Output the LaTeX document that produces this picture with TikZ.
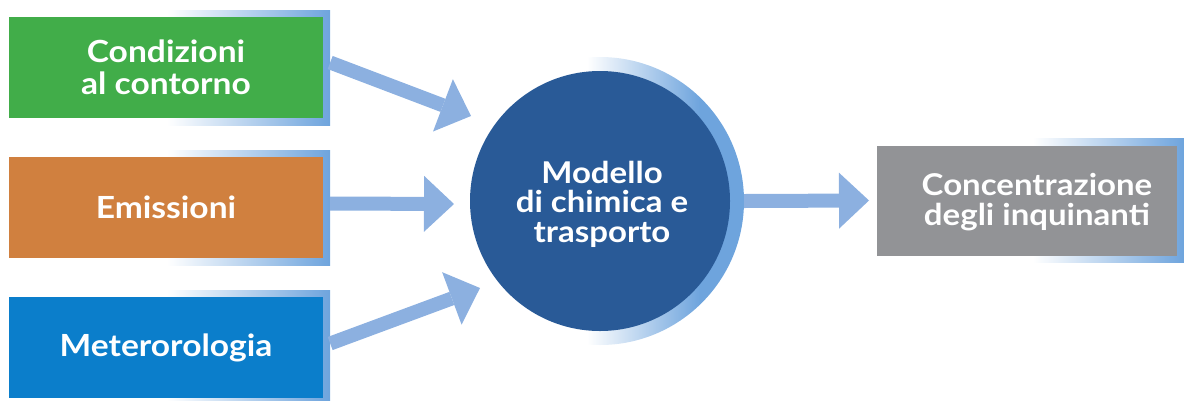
\documentclass[tikz,border=0pt]{standalone}
\usepackage{fontspec}
\setmainfont{Lato}[FakeStretch=1.1]
\usetikzlibrary{arrows.meta,calc}
\definecolor{cgreen}{HTML}{41AD49}
\definecolor{corange}{HTML}{D0803F}
\definecolor{cblue}{HTML}{0B7ECB}
\definecolor{cgray}{HTML}{929396}
\definecolor{cdark}{HTML}{295A97}
\definecolor{cring}{HTML}{6EA4DD}
\definecolor{carrow}{HTML}{8CB0E0}
\tikzset{
  inbox/.style={rectangle, inner sep=0pt, minimum width=314pt, minimum height=101pt,
    text=white, font=\bfseries\fontsize{30.5}{32}\selectfont, align=center},
  boxshadow/.style={rectangle, inner sep=0pt, left color=white, right color=cring, draw=none},
  flow/.style={draw=carrow, line width=14pt,
    -{Triangle[width=56pt,length=30pt,line width=0pt]}},
}
\begin{document}
\begin{tikzpicture}[x=1pt,y=-1pt]
\useasboundingbox (0,0) rectangle (1184,400);
% shadows
\node[boxshadow, minimum width=163pt, minimum height=115pt] (box1s) at (248.5,67.5) {};
\node[boxshadow, minimum width=163pt, minimum height=115pt] (box2s) at (248.5,207.5) {};
\node[boxshadow, minimum width=163pt, minimum height=115pt] (box3s) at (248.5,347.5) {};
\node[boxshadow, minimum width=151pt, minimum height=124pt] (outs) at (1108.5,200) {};
% boxes
\node[inbox, fill=cgreen] (box1) at (166,67.5) {Condizioni\\al contorno};
\node[inbox, fill=corange] (box2) at (166,207.5) {Emissioni};
\node[inbox, fill=cblue] (box3) at (166,347.5) {Meterorologia};
\node[rectangle, inner sep=0pt, minimum width=300pt, minimum height=110pt, fill=cgray] (out) at (1027,201) {};
\node[text=white, font=\bfseries\fontsize{30}{30}\selectfont, align=center] (outtext) at (1037,202) {Concentrazione\\degli inquinanti};
% model
\node[circle, inner sep=0pt, minimum size=288pt,
  path picture={
    \fill[cring] ([xshift=100pt]path picture bounding box.north) rectangle (path picture bounding box.south east);
    \shade[left color=white, right color=cring] ([xshift=-13pt]path picture bounding box.north) rectangle ([xshift=100pt]path picture bounding box.south);
  }] (ring) at (600,201) {};
\node[circle, inner sep=0pt, minimum size=260pt, fill=cdark] (model) at (600,201) {};
\node[text=white, font=\bfseries\fontsize{30}{29.5}\selectfont, align=center] (modeltext) at (602,204) {Modello\\di chimica e\\trasporto};
% arrows
\coordinate (t1) at (471,116);
\coordinate (t2) at (454,204);
\coordinate (t3) at (480,288);
\coordinate (t4) at (869,200.5);
\draw[flow] ($(box1s.east)+(0,-5)$) -- (t1);
\draw[flow] ($(box2s.east)+(0,-4)$) -- (t2);
\draw[flow] ($(box3s.east)+(0,-4)$) -- (t3);
\draw[flow] (ring.east) -- (t4);
\end{tikzpicture}
\end{document}
